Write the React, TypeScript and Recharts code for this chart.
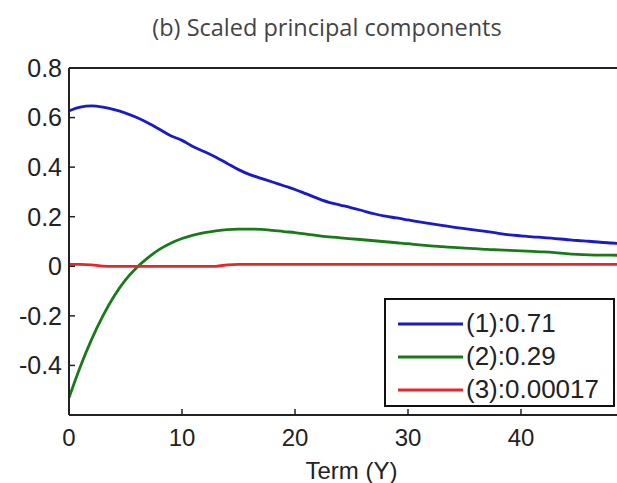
import { LineChart, Line, XAxis, YAxis, Legend } from 'recharts';

// term in years
const terms = [
  0, 1, 2, 3, 4, 5, 6, 7, 8, 9, 10, 11, 12, 13, 14, 15, 16, 17, 18, 19, 20, 21, 22, 23, 24, 25,
  26, 27, 28, 29, 30, 31, 32, 33, 34, 35, 36, 37, 38, 39, 40, 41, 42, 43, 44, 45, 46, 47, 48, 49, 50,
];

const pc1 = [
  0.627, 0.642, 0.647, 0.642, 0.632, 0.618, 0.6, 0.578, 0.553, 0.527, 0.508, 0.482, 0.462, 0.44,
  0.415, 0.39, 0.37, 0.355, 0.34, 0.325, 0.31, 0.292, 0.274, 0.258, 0.247, 0.236, 0.224, 0.212,
  0.202, 0.195, 0.187, 0.179, 0.172, 0.165, 0.158, 0.152, 0.146, 0.14, 0.133, 0.127, 0.123, 0.119,
  0.116, 0.112, 0.108, 0.104, 0.101, 0.097, 0.094, 0.091, 0.088,
];

const pc2 = [
  -0.53, -0.405, -0.295, -0.2, -0.12, -0.055, -0.005, 0.035, 0.068, 0.093, 0.112, 0.126, 0.136,
  0.143, 0.148, 0.15, 0.15, 0.149, 0.145, 0.14, 0.136, 0.13, 0.124, 0.119, 0.115, 0.111, 0.107,
  0.103, 0.099, 0.095, 0.091, 0.086, 0.082, 0.079, 0.076, 0.073, 0.071, 0.068, 0.066, 0.064, 0.062,
  0.06, 0.058, 0.055, 0.051, 0.048, 0.046, 0.045, 0.045, 0.044, 0.044,
];

const pc3 = [
  0.008, 0.008, 0.006, 0.001, 0, 0, 0, 0, 0, 0, 0, 0, 0, 0, 0.006, 0.008, 0.008, 0.008, 0.008,
  0.008, 0.008, 0.008, 0.008, 0.008, 0.008, 0.008, 0.008, 0.008, 0.008, 0.008, 0.008, 0.008, 0.008,
  0.008, 0.008, 0.008, 0.008, 0.008, 0.008, 0.008, 0.008, 0.008, 0.008, 0.008, 0.008, 0.008, 0.008,
  0.008, 0.008, 0.008, 0.008,
];

const seriesNames = ['(1):0.71', '(2):0.29', '(3):0.00017'];
const seriesColors = ['#1a1ac8', '#1a7a1a', '#e8262a'];
const xTicks = [0, 10, 20, 30, 40];
const topTicks = [0, 10, 20, 30, 40, 50];
const yTicks = [-0.4, -0.2, 0, 0.2, 0.4, 0.6, 0.8];

const data = terms.map((t, i) => ({ term: t, s1: pc1[i], s2: pc2[i], s3: pc3[i] }));

const font = '"Liberation Sans", Arial, sans-serif';
const axisStroke = { stroke: '#222', strokeWidth: 2 };
const tickStroke = { stroke: '#222', strokeWidth: 1.5 };

function LegendBox({ payload }: any) {
  return (
    <div
      style={{
        border: '2px solid #111',
        background: '#fff',
        height: 109,
        boxSizing: 'border-box',
        paddingTop: 7,
        fontFamily: font,
        fontSize: 26,
        color: '#222',
        whiteSpace: 'nowrap',
      }}
    >
      {(payload || []).map((p: any) => (
        <div key={p.value} style={{ display: 'flex', alignItems: 'center', height: 33 }}>
          <svg width={80} height={10}>
            <line x1={12} x2={77} y1={5} y2={5} stroke={p.color} strokeWidth={3} />
          </svg>
          <span>{p.value}</span>
        </div>
      ))}
    </div>
  );
}

export default function App() {
  return (
    <div
      style={{
        position: 'fixed',
        left: 0,
        top: 0,
        width: 617,
        height: 483,
        overflow: 'hidden',
        background: '#fff',
      }}
    >
      <div
        style={{
          position: 'absolute',
          left: 0,
          width: 654,
          top: 11,
          textAlign: 'center',
          fontFamily: '"Open Sans", sans-serif',
          fontSize: 23.5,
          color: '#444',
          whiteSpace: 'nowrap',
        }}
      >
        (b) Scaled principal components
      </div>
      <LineChart width={640} height={483} data={data} margin={{ top: 67, right: 6, left: 0, bottom: 0 }}>
        <XAxis
          xAxisId="top"
          orientation="top"
          dataKey="term"
          type="number"
          domain={[0, 50]}
          ticks={topTicks}
          tick={false}
          height={1}
          tickSize={-6}
          axisLine={axisStroke}
          tickLine={tickStroke}
        />
        <XAxis
          dataKey="term"
          type="number"
          domain={[0, 50]}
          ticks={xTicks}
          height={68}
          tickSize={-6}
          tickMargin={20}
          tick={{ fontFamily: font, fontSize: 24, fill: '#222' }}
          axisLine={axisStroke}
          tickLine={tickStroke}
          label={{
            value: 'Term (Y)',
            position: 'insideBottom',
            offset: 4,
            style: { fontFamily: font, fontSize: 24, fill: '#222' },
          }}
        />
        <YAxis
          type="number"
          domain={[-0.6, 0.8]}
          ticks={yTicks}
          width={69}
          tickSize={-6}
          tickMargin={13}
          tick={{ fontFamily: font, fontSize: 25, fill: '#222' }}
          tickFormatter={(v: number) => String(v)}
          axisLine={axisStroke}
          tickLine={tickStroke}
        />
        <Legend
          layout="vertical"
          align="center"
          verticalAlign="middle"
          wrapperStyle={{ left: 384, top: 298, width: 231 }}
          content={<LegendBox />}
        />
        {['s1', 's2', 's3'].map((k, i) => (
          <Line
            key={k}
            xAxisId={0}
            dataKey={k}
            name={seriesNames[i]}
            stroke={seriesColors[i]}
            strokeWidth={2.8}
            type="monotone"
            dot={false}
            isAnimationActive={false}
          />
        ))}
      </LineChart>
    </div>
  );
}
